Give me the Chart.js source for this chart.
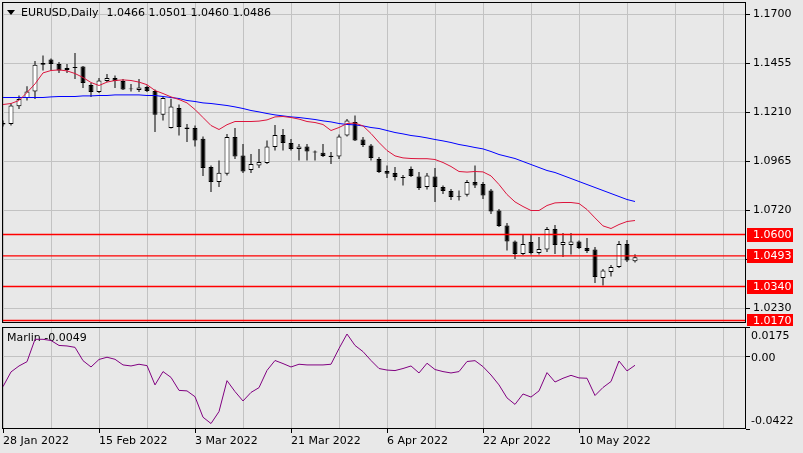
<!DOCTYPE html>
<html><head><meta charset="utf-8">
<script src="https://cdn.jsdelivr.net/npm/chart.js@4.4.1/dist/chart.umd.min.js"></script>
<style>
html,body{margin:0;padding:0;background:#e8e8e8;width:803px;height:453px;overflow:hidden}
canvas{position:absolute;left:0}
#main{top:0}
#sub{top:326px}
</style></head><body>
<canvas id="main" width="803" height="326"></canvas>
<canvas id="sub" width="803" height="127"></canvas>
<script>
const symbolTitle = 'EURUSD,Daily';
const indicatorName = 'Marlin';
const dates = ['28 Jan 2022','31 Jan 2022','1 Feb 2022','2 Feb 2022','3 Feb 2022','4 Feb 2022','7 Feb 2022','8 Feb 2022','9 Feb 2022','10 Feb 2022',
'11 Feb 2022','14 Feb 2022','15 Feb 2022','16 Feb 2022','17 Feb 2022','18 Feb 2022','21 Feb 2022','22 Feb 2022','23 Feb 2022','24 Feb 2022',
'25 Feb 2022','28 Feb 2022','1 Mar 2022','2 Mar 2022','3 Mar 2022','4 Mar 2022','7 Mar 2022','8 Mar 2022','9 Mar 2022','10 Mar 2022',
'11 Mar 2022','14 Mar 2022','15 Mar 2022','16 Mar 2022','17 Mar 2022','18 Mar 2022','21 Mar 2022','22 Mar 2022','23 Mar 2022','24 Mar 2022',
'25 Mar 2022','28 Mar 2022','29 Mar 2022','30 Mar 2022','31 Mar 2022','1 Apr 2022','4 Apr 2022','5 Apr 2022','6 Apr 2022','7 Apr 2022',
'8 Apr 2022','11 Apr 2022','12 Apr 2022','13 Apr 2022','14 Apr 2022','15 Apr 2022','18 Apr 2022','19 Apr 2022','20 Apr 2022','21 Apr 2022',
'22 Apr 2022','25 Apr 2022','26 Apr 2022','27 Apr 2022','28 Apr 2022','29 Apr 2022','2 May 2022','3 May 2022','4 May 2022','5 May 2022',
'6 May 2022','9 May 2022','10 May 2022','11 May 2022','12 May 2022','13 May 2022','16 May 2022','17 May 2022','18 May 2022','19 May 2022'];

const openP = [1.1158,1.1153,1.1241,1.1282,1.1315,1.1449,1.1475,1.1453,1.1423,1.1437,
1.1440,1.1348,1.1312,1.1367,1.1383,1.1367,1.1330,1.1323,1.1337,1.1317,
1.1199,1.1133,1.1232,1.1135,1.1132,1.1079,1.0937,1.0862,1.0904,1.1087,
1.0995,1.0923,1.0945,1.0958,1.1037,1.1098,1.1058,1.1028,1.1040,1.1015,
1.1009,1.0994,1.0990,1.1095,1.1162,1.1075,1.1045,1.0978,1.0917,1.0907,
1.0887,1.0928,1.0890,1.0837,1.0890,1.0837,1.0817,1.0789,1.0799,1.0862,
1.0853,1.0820,1.0720,1.0645,1.0565,1.0503,1.0562,1.0508,1.0525,1.0628,
1.0548,1.0548,1.0565,1.0533,1.0525,1.0383,1.0412,1.0437,1.0553,1.0466];
const highP = [1.1170,1.1255,1.1295,1.1341,1.1467,1.1495,1.1480,1.1462,1.1453,1.1508,
1.1442,1.1358,1.1382,1.1403,1.1395,1.1378,1.1353,1.1378,1.1345,1.1325,
1.1287,1.1279,1.1250,1.1153,1.1145,1.1090,1.0945,1.0970,1.1103,1.1132,
1.1053,1.1003,1.1028,1.1070,1.1148,1.1128,1.1078,1.1053,1.1053,1.1020,
1.1053,1.1012,1.1100,1.1178,1.1195,1.1087,1.1053,1.0987,1.0945,1.0937,
1.0898,1.0940,1.0912,1.0907,1.0932,1.0845,1.0828,1.0820,1.0873,1.0945,
1.0862,1.0828,1.0728,1.0657,1.0570,1.0598,1.0600,1.0587,1.0637,1.0648,
1.0607,1.0607,1.0570,1.0583,1.0537,1.0428,1.0448,1.0567,1.0573,1.0501];
const lowP = [1.1140,1.1145,1.1228,1.1270,1.1278,1.1420,1.1420,1.1408,1.1408,1.1378,
1.1333,1.1287,1.1308,1.1362,1.1332,1.1322,1.1315,1.1312,1.1312,1.1112,
1.1170,1.1130,1.1095,1.1062,1.1040,1.0892,1.0812,1.0837,1.0895,1.0978,
1.0908,1.0908,1.0932,1.0953,1.1020,1.1020,1.1020,1.0970,1.0970,1.0970,
1.0987,1.0953,1.0978,1.1090,1.1067,1.1037,1.0970,1.0907,1.0882,1.0870,
1.0845,1.0887,1.0823,1.0825,1.0762,1.0803,1.0773,1.0770,1.0790,1.0833,
1.0778,1.0703,1.0637,1.0520,1.0478,1.0498,1.0500,1.0500,1.0512,1.0503,
1.0487,1.0500,1.0528,1.0507,1.0357,1.0345,1.0390,1.0432,1.0462,1.0460];
const closeP = [1.1150,1.1245,1.1278,1.1315,1.1449,1.1458,1.1453,1.1420,1.1433,1.1433,
1.1357,1.1312,1.1370,1.1383,1.1367,1.1325,1.1326,1.1335,1.1317,1.1199,
1.1282,1.1240,1.1137,1.1128,1.1070,1.0932,1.0862,1.0909,1.1087,1.0990,
1.0915,1.0953,1.0962,1.1040,1.1098,1.1058,1.1028,1.1040,1.1015,1.1010,
1.0992,1.0988,1.1090,1.1170,1.1070,1.1048,1.0982,1.0912,1.0904,1.0887,
1.0883,1.0892,1.0833,1.0895,1.0837,1.0817,1.0787,1.0793,1.0862,1.0845,
1.0795,1.0715,1.0642,1.0565,1.0503,1.0553,1.0507,1.0528,1.0628,1.0548,
1.0562,1.0565,1.0532,1.0517,1.0387,1.0420,1.0437,1.0553,1.0470,1.0486];

const maFast = [1.1250,1.1255,1.1270,1.1310,1.1353,1.1408,1.1420,1.1423,1.1418,1.1405,
1.1385,1.1360,1.1345,1.1362,1.1370,1.1373,1.1370,1.1362,1.1349,1.1320,
1.1305,1.1288,1.1275,1.1258,1.1225,1.1185,1.1145,1.1125,1.1149,1.1165,
1.1165,1.1165,1.1167,1.1173,1.1188,1.1190,1.1185,1.1177,1.1165,1.1160,
1.1150,1.1120,1.1135,1.1155,1.1157,1.1143,1.1105,1.1060,1.1020,1.0993,
1.0983,1.0980,1.0979,1.0979,1.0975,1.0960,1.0940,1.0915,1.0912,1.0915,
1.0913,1.0893,1.0850,1.0800,1.0763,1.0740,1.0720,1.0720,1.0745,1.0758,
1.0760,1.0760,1.0755,1.0725,1.0683,1.0643,1.0630,1.0650,1.0665,1.0670];
const maSlow = [1.1285,1.1285,1.1285,1.1285,1.1285,1.1285,1.1288,1.1290,1.1290,1.1290,
1.1293,1.1293,1.1295,1.1295,1.1298,1.1298,1.1298,1.1298,1.1295,1.1295,
1.1290,1.1285,1.1280,1.1270,1.1265,1.1258,1.1255,1.1250,1.1245,1.1238,
1.1230,1.1220,1.1213,1.1205,1.1198,1.1193,1.1188,1.1185,1.1180,1.1175,
1.1168,1.1163,1.1155,1.1150,1.1148,1.1143,1.1135,1.1130,1.1120,1.1110,
1.1103,1.1095,1.1090,1.1083,1.1075,1.1068,1.1060,1.1050,1.1043,1.1035,
1.1028,1.1015,1.1000,1.0990,1.0980,1.0965,1.0950,1.0935,1.0920,1.0910,
1.0895,1.0880,1.0865,1.0850,1.0835,1.0820,1.0805,1.0790,1.0775,1.0765];

const marlin = [-0.0174,-0.0088,-0.0053,-0.0028,0.0103,0.0103,0.0096,0.0067,0.0064,0.0056,
-0.0022,-0.0059,-0.0015,-0.0002,-0.0014,-0.0047,-0.0053,-0.0043,-0.0051,-0.0164,
-0.0086,-0.0120,-0.0196,-0.0199,-0.0233,-0.0353,-0.0390,-0.0320,-0.0139,-0.0203,
-0.0258,-0.0208,-0.0180,-0.0079,-0.0021,-0.0039,-0.0059,-0.0043,-0.0047,-0.0047,
-0.0047,-0.0043,0.0049,0.0134,0.0067,0.0031,-0.0021,-0.0068,-0.0077,-0.0080,
-0.0068,-0.0053,-0.0094,-0.0037,-0.0074,-0.0086,-0.0094,-0.0086,-0.0027,-0.0022,
-0.0057,-0.0106,-0.0164,-0.0240,-0.0278,-0.0217,-0.0235,-0.0199,-0.0092,-0.0147,
-0.0125,-0.0108,-0.0123,-0.0125,-0.0226,-0.0179,-0.0144,-0.0024,-0.0082,-0.0049];

const levels = [1.0600, 1.0493, 1.0340, 1.0170];
const priceTicks = [1.1700, 1.1455, 1.1210, 1.0965, 1.0720, 1.0475, 1.0230];
const hiddenPriceTick = 1.0475;
const marlinTicks = [0.0175, 0.00, -0.0422];
const marlinTickLabels = ['0.0175', '0.00', '-0.0422'];

// ---------- setup ----------
const FONT = "11px 'DejaVu Sans', sans-serif";
Chart.defaults.font.family = "'DejaVu Sans', sans-serif";
Chart.defaults.font.size = 11;
Chart.defaults.color = '#000';

const N = closeP.length;
const X_MIN = -0.125, X_MAX = 92.875;
const Y_MAX = 1.17625, Y_MIN = 1.01575;
const gridCol = '#c2c2c2';
const gridTicks = []; for (let v = 0; v <= 90; v += 6) gridTicks.push(v);

const wickData = dates.map((d, i) => ({x: i, y: [lowP[i], highP[i]]}));
const bodyData = dates.map((d, i) => ({x: i, y: [openP[i], closeP[i]]}));
const bodyFill = dates.map((d, i) => closeP[i] >= openP[i] ? '#ffffff' : '#000000');
const toLine = arr => arr.map((v, i) => ({x: i, y: v}));
const lastOHLC = [openP[N-1], highP[N-1], lowP[N-1], closeP[N-1]];

const frame = {
  id: 'frame',
  afterDraw(chart) {
    const {ctx, chartArea: a} = chart;
    ctx.save();
    ctx.strokeStyle = '#000'; ctx.lineWidth = 1;
    ctx.strokeRect(Math.round(a.left) + 0.5, Math.round(a.top) + 0.5,
                   Math.round(a.right - a.left) - 1, Math.round(a.bottom - a.top) - 1);
    ctx.restore();
  }
};

const mainDeco = {
  id: 'mainDeco',
  afterDraw(chart) {
    const ctx = chart.ctx, y = chart.scales.y, a = chart.chartArea;
    ctx.save();
    ctx.font = FONT; ctx.textBaseline = 'middle';
    levels.forEach(L => {
      const py = Math.floor(y.getPixelForValue(L));
      ctx.fillStyle = '#ff0000';
      ctx.fillRect(a.right + 1, py - 6, 46, 14);
      ctx.fillStyle = '#ffffff';
      ctx.fillText(L.toFixed(4), a.right + 7, py + 1);
    });
    ctx.fillStyle = '#000';
    ctx.beginPath(); ctx.moveTo(7, 10); ctx.lineTo(15, 10); ctx.lineTo(11, 15); ctx.closePath(); ctx.fill();
    ctx.fillText(symbolTitle, 21, 13);
    const w = ctx.measureText(symbolTitle).width;
    ctx.fillText(lastOHLC.map(v => v.toFixed(4)).join(' '), 21 + w + 8, 13);
    ctx.restore();
  }
};

new Chart(document.getElementById('main'), {
  type: 'bar',
  data: {datasets: [
    {type: 'line', data: toLine(maFast), borderColor: '#dc143c', borderWidth: 1, pointRadius: 0, order: 0},
    {type: 'line', data: toLine(maSlow), borderColor: '#0000ff', borderWidth: 1, pointRadius: 0, order: 0},
    ...levels.map(L => ({type: 'line', data: [{x: X_MIN - 1, y: L}, {x: X_MAX + 1, y: L}],
      borderColor: '#ff0000', borderWidth: 1.3, pointRadius: 0, order: 0})),
    {type: 'bar', data: bodyData, backgroundColor: bodyFill, borderColor: '#000', borderWidth: 1,
      borderSkipped: false, barThickness: 5, grouped: false, inflateAmount: 0, order: 1},
    {type: 'bar', data: wickData, backgroundColor: '#000', borderWidth: 0,
      barThickness: 1, grouped: false, inflateAmount: 0, order: 2}
  ]},
  options: {
    responsive: false, animation: false, events: [],
    layout: {padding: {left: 2, top: 2, right: 0, bottom: 3}},
    plugins: {legend: {display: false}, tooltip: {enabled: false}},
    scales: {
      x: {type: 'linear', min: X_MIN, max: X_MAX, offset: false,
        afterBuildTicks: s => { s.ticks = gridTicks.map(v => ({value: v})); },
        ticks: {display: false}, border: {display: false},
        grid: {color: gridCol, borderDash: [3, 2], drawTicks: false, offset: false},
        afterFit: s => { s.height = 0; }},
      y: {type: 'linear', position: 'right', min: Y_MIN, max: Y_MAX,
        afterBuildTicks: s => { s.ticks = priceTicks.map(v => ({value: v})); },
        ticks: {padding: 3, callback: v => Math.abs(v - hiddenPriceTick) < 1e-6 ? '' : v.toFixed(4)},
        border: {display: false},
        grid: {color: gridCol, borderDash: [3, 2], tickLength: 4, tickColor: '#000', tickBorderDash: []},
        afterFit: s => { s.width = 57; s.paddingTop = 0; s.paddingBottom = 0; }}
    }
  },
  plugins: [frame, mainDeco]
});

const subDeco = {
  id: 'subDeco',
  beforeDatasetsDraw(chart) {
    const ctx = chart.ctx;
    ctx.save(); ctx.font = FONT; ctx.fillStyle = '#000'; ctx.textBaseline = 'middle';
    ctx.fillText(indicatorName + ' ' + marlin[N-1].toFixed(4), 7, 12.5);
    ctx.restore();
  },
  afterDraw(chart) {
    const ctx = chart.ctx, y = chart.scales.y, a = chart.chartArea;
    ctx.save(); ctx.font = FONT; ctx.fillStyle = '#000'; ctx.textBaseline = 'middle';
    const offs = [9, 1.5, -8];
    marlinTicks.forEach((v, k) => {
      ctx.fillText(marlinTickLabels[k], a.right + 5, y.getPixelForValue(v) + offs[k]);
    });
    ctx.restore();
  }
};

new Chart(document.getElementById('sub'), {
  type: 'line',
  data: {datasets: [{data: toLine(marlin), borderColor: '#800080', borderWidth: 1, pointRadius: 0}]},
  options: {
    responsive: false, animation: false, events: [],
    layout: {padding: {left: 2, top: 1, right: 0, bottom: 0}},
    plugins: {legend: {display: false}, tooltip: {enabled: false}},
    scales: {
      x: {type: 'linear', min: X_MIN, max: X_MAX, offset: false,
        afterBuildTicks: s => { s.ticks = gridTicks.map(v => ({value: v})); },
        ticks: {autoSkip: false, maxRotation: 0, align: 'start', padding: 2,
          callback: v => (v % 12 === 0 && dates[v]) ? dates[v] : ''},
        border: {display: false},
        grid: {color: gridCol, borderDash: [3, 2], offset: false, tickLength: 4, tickBorderDash: [],
          tickColor: c => (c.tick && c.tick.value % 12 === 0 && dates[c.tick.value]) ? '#000' : 'rgba(0,0,0,0)'},
        afterFit: s => { s.height = 24; s.paddingLeft = 0; s.paddingRight = 0; }},
      y: {type: 'linear', position: 'right', min: -0.0422, max: 0.0175,
        afterBuildTicks: s => { s.ticks = marlinTicks.map(v => ({value: v})); },
        ticks: {display: false},
        border: {display: false},
        grid: {color: c => (c.tick && c.tick.value === 0) ? gridCol : 'rgba(0,0,0,0)',
          borderDash: [3, 2], tickLength: 4, tickColor: '#000', tickBorderDash: []},
        afterFit: s => { s.width = 57; s.paddingTop = 0; s.paddingBottom = 0; }}
    }
  },
  plugins: [frame, subDeco]
});
</script>
</body></html>
